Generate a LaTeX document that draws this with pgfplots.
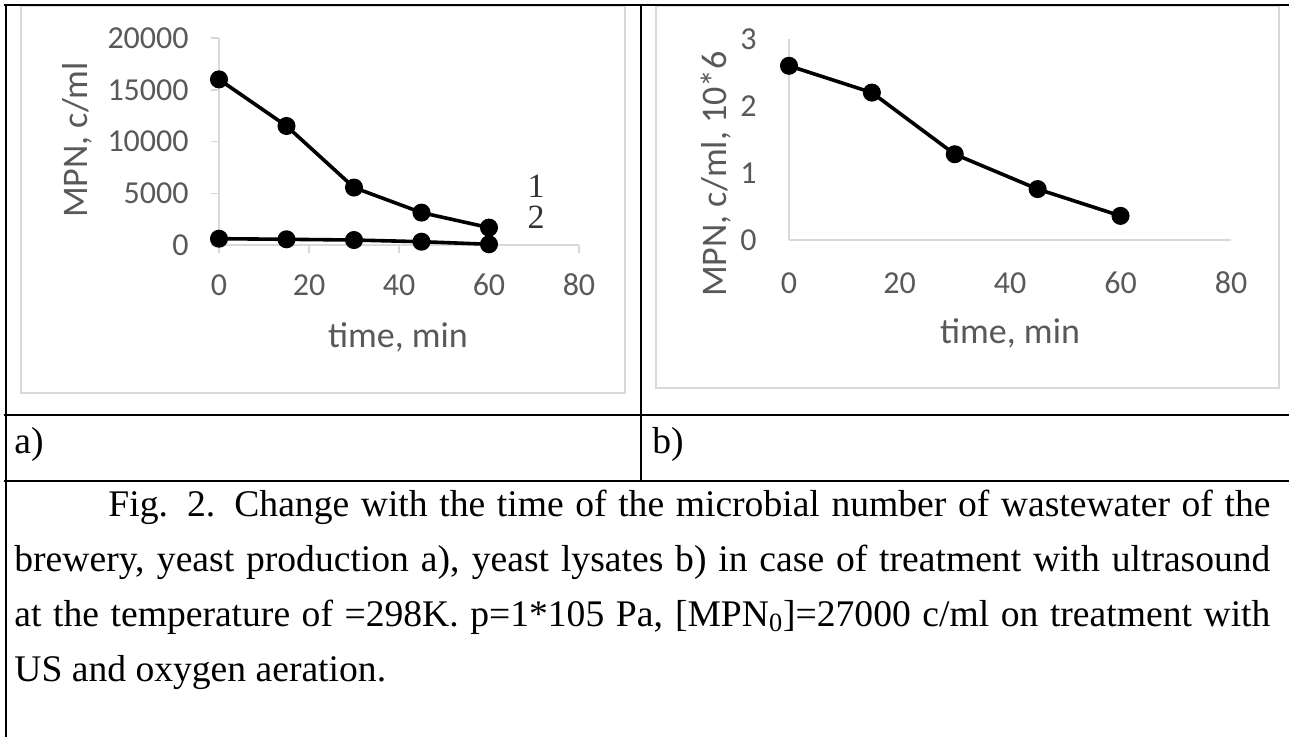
\documentclass[border=0pt]{standalone}
\usepackage{fontspec}
\setmainfont{Liberation Serif}
\newfontfamily\calibri{Carlito}
\usepackage{pgfplots}
\pgfplotsset{compat=1.18}

\definecolor{axisgray}{HTML}{D9D9D9}
\definecolor{labelgray}{HTML}{595959}

\pgfplotsset{
  excelplot/.style={
    scale only axis, clip=false,
    axis lines*=left,
    axis line style={axisgray, line width=0.75pt},
    xmin=0, xmax=80, xtick={0,20,40,60,80},
    tick style={axisgray, line width=0.75pt},
    ticklabel style={font=\calibri\fontsize{16}{19}\selectfont, text=labelgray},
    /pgf/number format/assume math mode=true,
    /pgf/number format/1000 sep={},
    label style={font=\calibri\fontsize{18}{21}\selectfont, text=labelgray},
    xlabel={time, min},
  },
  curve/.style={black, line width=1.8pt, mark=*, mark size=3.6pt,
    mark options={solid, fill=black}},
}

\begin{document}
\begin{tikzpicture}
% frame drawn in pixel units of the reference (1px = 0.5pt)
\begin{scope}[x=0.5pt, y=-0.5pt]
  \path[use as bounding box] (0,0) rectangle (1289,737);
  \draw[axisgray, line width=1pt] (20.5,6) rectangle (624.5,392.5);
  \draw[axisgray, line width=1pt] (656,6) rectangle (1279,388);
  \draw[black, line width=1.2pt] (4,5) -- (1289,5);
  \draw[black, line width=1.2pt] (6,4) -- (6,737);
  \draw[black, line width=1.2pt] (641,5) -- (641,481);
  \draw[black, line width=1.2pt] (4,415) -- (1289,415);
  \draw[black, line width=1.2pt] (4,481) -- (1289,481);

  \begin{scope}[every node/.style={inner sep=0pt, anchor=base west,
      font=\fontsize{18.8}{22}\selectfont}]
    \node at (14,453) {a)};
    \node at (652,453) {b)};
    \node at (108,516)
      {\makebox[581pt][s]{Fig. 2. Change with the time of the microbial number of wastewater of the}};
    \node at (14,571)
      {\makebox[628pt][s]{brewery, yeast production a), yeast lysates b) in case of treatment with ultrasound}};
    \node at (14,626)
      {\makebox[628pt][s]{at the temperature of =298K. p=1*105 Pa, [MPN\textsubscript{0}]=27000 c/ml on treatment with}};
    \node at (14,681) {US and oxygen aeration.};
  \end{scope}
  % curve numbers
  \node[inner sep=0pt, anchor=base, text=black!80, font=\fontsize{17}{18}\selectfont] at (536,198) {1};
  \node[inner sep=0pt, anchor=base, text=black!80, font=\fontsize{17}{18}\selectfont] at (536,229) {2};
\end{scope}

% a) brewery, yeast production
\begin{axis}[excelplot,
    at={(109.5pt,-122.5pt)}, anchor=south west,
    width=180pt, height=103.5pt,
    ymin=0, ymax=20000, ytick={0,5000,10000,15000,20000},
    scaled y ticks=false,
    tick align=outside, major tick length=4pt,
    xticklabel style={anchor=center, yshift=-16pt},
    yticklabel style={anchor=east, inner sep=0pt, xshift=-11pt},
    ylabel={MPN, c/ml},
    xlabel style={at={(axis description cs:0.497,-0.444)}, anchor=center},
    ylabel style={at={(axis description cs:-0.394,0.507)}, anchor=center},
  ]
  \addplot[curve] coordinates {(0,16000) (15,11500) (30,5550) (45,3130) (60,1680)};
  \addplot[curve] coordinates {(0,610) (15,550) (30,480) (45,320) (60,70)};
\end{axis}

% b) yeast lysates
\begin{axis}[excelplot,
    at={(394.5pt,-120pt)}, anchor=south west,
    width=221pt, height=100.5pt,
    ymin=0, ymax=3, ytick={0,1,2,3},
    major tick length=0pt,
    xticklabel style={anchor=center, yshift=-21.5pt},
    yticklabel style={anchor=east, inner sep=0pt, xshift=-16pt},
    ylabel={MPN, c/ml, 10*6},
    xlabel style={at={(axis description cs:0.5,-0.463)}, anchor=center},
    ylabel style={at={(axis description cs:-0.165,0.328)}, anchor=center},
  ]
  \addplot[curve] coordinates {(0,2.6) (15,2.2) (30,1.28) (45,0.76) (60,0.36)};
\end{axis}
\end{tikzpicture}
\end{document}
